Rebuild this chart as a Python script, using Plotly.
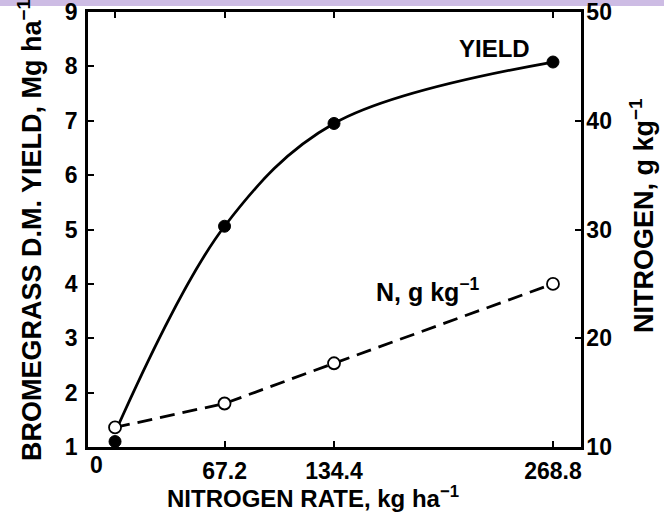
import plotly.graph_objects as go

# ---- data ----
nitrogen_rate = [0, 67.2, 134.4, 268.8]              # kg/ha
yield_mg = [1.1, 5.06, 6.95, 8.08]                  # Mg/ha (filled circles)
n_conc = [11.8, 14.0, 17.7, 25.0]                    # g/kg (open circles)
curve_x = [2, 67.2, 134.4, 268.8]
curve_y = [1.4, 5.06, 6.95, 8.08]
x_tick_vals = [0, 67.2, 134.4, 268.8]
x_tick_text = ["", "67.2", "134.4", "268.8"]
y_ticks = [1, 2, 3, 4, 5, 6, 7, 8, 9]
y2_ticks = [10, 20, 30, 40, 50]

FONT = "Liberation Sans"
L, R, T, B = 88, 83, 12, 79
W, H = 664, 526
pw, ph = W - L - R, H - T - B


def f(size):
    return dict(family=FONT, size=size, color="black", weight="bold")


fig = go.Figure()
fig.add_trace(go.Scatter(x=curve_x, y=curve_y, mode="lines",
                         line=dict(color="black", width=2.8, shape="spline", smoothing=1.0),
                         showlegend=False, hoverinfo="skip"))
fig.add_trace(go.Scatter(x=nitrogen_rate, y=n_conc, mode="lines", yaxis="y2",
                         line=dict(color="black", width=2.8, dash="15px,8px"),
                         showlegend=False))
fig.add_trace(go.Scatter(x=nitrogen_rate, y=yield_mg, mode="markers",
                         marker=dict(symbol="circle", size=12, color="black",
                                     line=dict(color="black", width=1)),
                         showlegend=False))
fig.add_trace(go.Scatter(x=nitrogen_rate, y=n_conc, mode="markers", yaxis="y2",
                         marker=dict(symbol="circle", size=12, color="white",
                                     line=dict(color="black", width=1.8)),
                         showlegend=False))

axis_common = dict(showline=True, linecolor="black", linewidth=2.5, ticks="inside",
                   ticklen=6, tickwidth=1.8, tickcolor="black", showgrid=False,
                   zeroline=False, tickfont=f(23), automargin=False,
                   ticklabeloverflow="allow")

fig.update_layout(
    width=W, height=H, margin=dict(l=L, r=R, t=T, b=B, autoexpand=False),
    paper_bgcolor="white", plot_bgcolor="white",
    xaxis=dict(range=[-16.6, 286.0], tickmode="array", tickvals=x_tick_vals,
               ticktext=x_tick_text, mirror="ticks", ticklabelstandoff=2, **axis_common),
    yaxis=dict(range=[1, 9], tickmode="array", tickvals=y_ticks, ticklabelstandoff=3,
               **axis_common),
    yaxis2=dict(range=[10, 50], tickmode="array", tickvals=y2_ticks, overlaying="y",
                side="right", ticklabelstandoff=-2, **axis_common),
    font=dict(family=FONT, color="black"),
)

annots = [
    dict(text="0", xref="paper", yref="paper", x=0, y=0, xanchor="left", yanchor="top",
         yshift=-3, font=f(23)),
    dict(text="YIELD", xref="x", yref="y", x=233, y=8.33, xanchor="center", yanchor="middle",
         font=f(24)),
    dict(text="N, g kg<sup>−1</sup>", xref="x", yref="y", x=192, y=3.88, xanchor="center",
         yanchor="middle", font=f(25)),
    dict(text="NITROGEN RATE, kg ha<sup>−1</sup>", xref="paper", yref="paper",
         x=(313 - L) / pw, y=-(497 - T - ph) / ph, xanchor="center", yanchor="middle",
         font=f(24)),
    dict(text="BROMEGRASS D.M. YIELD, Mg ha<sup>−1</sup>", xref="paper", yref="paper",
         x=(30 - L) / pw, y=1 - (230 - T) / ph, xanchor="center", yanchor="middle",
         textangle=-90, font=f(27)),
    dict(text="NITROGEN, g kg<sup>−1</sup>", xref="paper", yref="paper",
         x=(642 - L) / pw, y=1 - (216 - T) / ph, xanchor="center", yanchor="middle",
         textangle=-90, font=f(27)),
]
for a in annots:
    a.setdefault("showarrow", False)
    fig.add_annotation(**a)

fig.add_shape(type="rect", xref="paper", yref="paper", x0=-L / pw, x1=1 + R / pw,
              y0=1 + (T - 6) / ph, y1=1 + T / ph, fillcolor="#CDBCE4", line=dict(width=0),
              layer="below")

fig.write_html("out.html", config={"displayModeBar": False},
               post_script="document.body.style.margin='0';")
